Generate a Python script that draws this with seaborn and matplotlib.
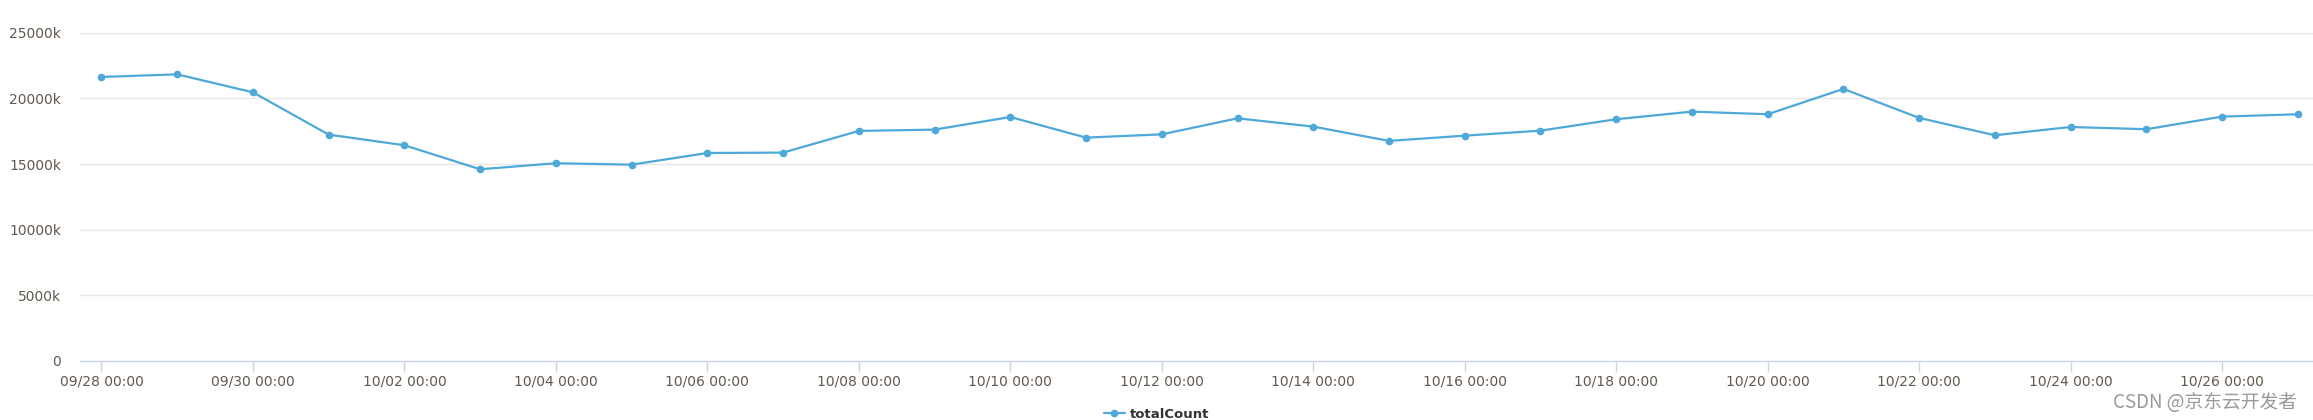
import numpy as np
import pandas as pd
import matplotlib
matplotlib.use("Agg")
import matplotlib.pyplot as plt
import matplotlib.dates as mdates
from matplotlib.lines import Line2D
import seaborn as sns

# ---- data ----
start_date = "2023-09-28"
n_days = 30
total_count_k = [21630, 21830, 20460, 17240, 16430, 14600, 15060, 14950, 15840, 15870,
                 17520, 17620, 18580, 17010, 17260, 18480, 17850, 16760, 17160, 17540,
                 18410, 18990, 18790, 20720, 18510, 17190, 17820, 17650, 18610, 18790]
y_ticks = [0, 5000, 10000, 15000, 20000, 25000]
y_tick_labels = ["0", "5000k", "10000k", "15000k", "20000k", "25000k"]
series_name = "totalCount"
watermark = "CSDN @京东云开发者"

dates = pd.date_range(start_date, periods=n_days, freq="D")
df = pd.DataFrame({"date": dates, series_name: total_count_k})

sns.set_theme(style="white")
plt.rcParams["font.family"] = ["DejaVu Sans"]

W, H = 2313, 420
fig = plt.figure(figsize=(W / 100, H / 100), dpi=100)
left, right, top, bottom = 80, 2313, 32.7, 361
ax = fig.add_axes([left / W, 1 - bottom / H, (right - left) / W, (bottom - top) / H])

color = "#4ea8d8"
sns.lineplot(data=df, x="date", y=series_name, ax=ax, color=color, linewidth=1.6,
             marker="o", markersize=5.5, markeredgewidth=0, legend=False)

d0 = dates[0]
ax.set_xlim(d0 - pd.Timedelta(hours=6.8), d0 + pd.Timedelta(days=29.2))
ax.set_ylim(0, 25000)
ax.set_yticks(y_ticks)
ax.set_yticklabels(y_tick_labels)
xt = pd.date_range(start_date, periods=15, freq="2D")
ax.set_xticks(xt)
ax.set_xticklabels([d.strftime("%m/%d %H:%M") for d in xt])

ax.set_xlabel("")
ax.set_ylabel("")
ax.grid(axis="y", color="#e6e6e6", linewidth=1)
ax.grid(axis="x", visible=False)
for s in ["top", "right", "left"]:
    ax.spines[s].set_visible(False)
ax.spines["bottom"].set_color("#ccd6eb")
ax.spines["bottom"].set_linewidth(1)
ax.tick_params(axis="x", length=8, width=1, color="#ccd6eb", labelsize=10,
               labelcolor="#62594f", pad=2, direction="out", bottom=True)
ax.tick_params(axis="y", length=0, labelsize=10, labelcolor="#62594f", pad=13.5)
ax.set_axisbelow(True)

handle = Line2D([0], [0], color=color, linewidth=1.6, marker="o", markersize=5.5,
                markeredgewidth=0)
fig.legend([handle], [series_name], loc="center", bbox_to_anchor=(0.5, 1 - 414 / H),
           frameon=False, prop={"size": 9.5, "weight": "bold"}, labelcolor="#333333",
           handlelength=1.6, handletextpad=0.4, borderpad=0, borderaxespad=0)

fig.text(2297 / W, 1 - 402 / H, watermark, ha="right", va="center", fontsize=13.5,
         color="#9a9a9a", family=["Noto Sans CJK SC", "DejaVu Sans"])

fig.savefig("out.png", dpi=100)
